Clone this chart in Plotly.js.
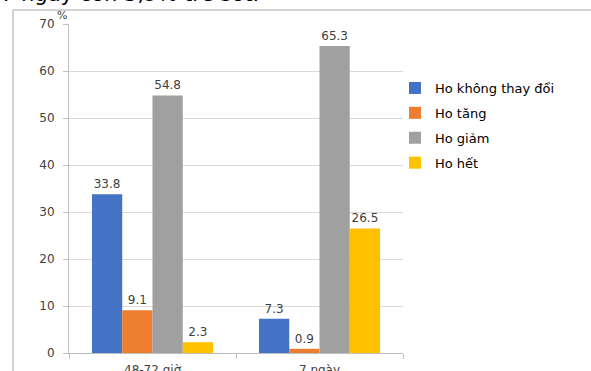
<!DOCTYPE html>
<html>
<head>
<meta charset="utf-8">
<script src="https://cdn.plot.ly/plotly-3.0.1.min.js"></script>
<style>html,body{margin:0;padding:0;background:#fff;}#chart{width:591px;height:371px;}</style>
</head>
<body>
<div id="chart"></div>
<script>
const categories = ["48-72 giờ", "7 ngày"];
const seriesNames = ["Ho không thay đổi", "Ho tăng", "Ho giảm", "Ho hết"];
const hoKhongThayDoi = [33.8, 7.3];
const hoTang = [9.1, 0.9];
const hoGiam = [54.8, 65.3];
const hoHet = [2.3, 26.5];
const yTickVals = [0, 10, 20, 30, 40, 50, 60, 70];
const yTickText = ["0", "10", "20", "30", "40", "50", "60", "70"];
const headerText = "7 ngày còn 3,9% trẻ sốt.";

const colors = ["#4472C4", "#ED7D31", "#A0A0A0", "#FFC000"];
const seriesValues = [hoKhongThayDoi, hoTang, hoGiam, hoHet];

const font = "'DejaVu Sans', Verdana, sans-serif";

const traces = seriesNames.map((name, i) => ({
  type: "bar",
  name: name,
  x: categories,
  y: seriesValues[i],
  text: seriesValues[i].map(v => v.toFixed(1)),
  textposition: "outside",
  cliponaxis: false,
  textfont: {family: font, size: 12, color: "#404040"},
  marker: {color: colors[i]},
  legendgroup: "g" + i,
  hoverinfo: "x+y+name"
}));

// pixel helpers for paper coords
const L = 69, R = 403, T = 24, B = 353;
const px = x => (x - L) / (R - L);
const py = y => (B - y) / (B - T);

const layout = {
  width: 591, height: 371,
  margin: {l: L, r: 591 - R, t: T, b: 371 - B, pad: 0},
  paper_bgcolor: "#ffffff",
  plot_bgcolor: "#ffffff",
  barmode: "group",
  bargap: 0.275,
  bargroupgap: 0,
  showlegend: true,
  legend: {
    x: px(395), y: py(73), xanchor: "left", yanchor: "top",
    font: {family: font, size: 13, color: "#000000"},
    traceorder: "grouped",
    tracegroupgap: 5,
    bgcolor: "rgba(0,0,0,0)"
  },
  xaxis: {
    type: "category",
    tickson: "boundaries",
    ticks: "outside", ticklen: 5, tickcolor: "#bfbfbf",
    showline: true, linecolor: "#bfbfbf", linewidth: 1,
    showgrid: false,
    ticklabelstandoff: 6,
    tickfont: {family: font, size: 12, color: "#404040"},
    fixedrange: true
  },
  yaxis: {
    range: [0, 70],
    tickvals: yTickVals, ticktext: yTickText,
    ticks: "outside", ticklen: 5, tickcolor: "#bfbfbf",
    showline: true, linecolor: "#bfbfbf", linewidth: 1,
    showgrid: true, gridcolor: "#d9d9d9", gridwidth: 1,
    zeroline: false,
    ticklabelstandoff: 6,
    tickfont: {family: font, size: 12, color: "#404040"},
    fixedrange: true
  },
  shapes: [
    {type: "line", xref: "paper", yref: "paper", x0: px(13), x1: px(13), y0: py(10), y1: py(371), line: {color: "#a6a6a6", width: 1}},
    {type: "line", xref: "paper", yref: "paper", x0: px(13), x1: px(591), y0: py(10), y1: py(10), line: {color: "#a6a6a6", width: 1}}
  ],
  annotations: [
    {xref: "paper", yref: "paper", x: px(-1), y: py(8), xanchor: "left", yanchor: "bottom",
     text: headerText, showarrow: false, font: {family: font, size: 21, color: "#000000"}},
    {xref: "paper", yref: "paper", x: px(55), y: py(16), xanchor: "left", yanchor: "middle",
     text: "%", showarrow: false, font: {family: font, size: 11, color: "#404040"}}
  ]
};

Plotly.newPlot("chart", traces, layout, {displayModeBar: false, staticPlot: true});
</script>
</body>
</html>
